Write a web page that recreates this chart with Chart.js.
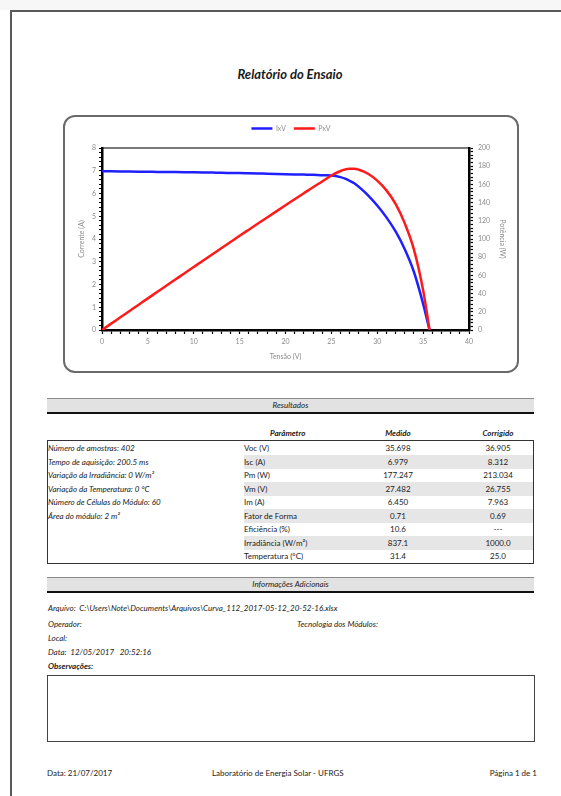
<!DOCTYPE html>
<html>
<head>
<meta charset="utf-8">
<script src="https://cdn.jsdelivr.net/npm/chart.js@4.4.1/dist/chart.umd.min.js"></script>
<style>
  html,body{margin:0;padding:0;background:#fff;}
  body{width:561px;height:796px;position:relative;overflow:hidden;font-family:Lato,"Liberation Sans",sans-serif;color:#1a1a1a;}
  .abs{position:absolute;white-space:nowrap;}
  #topstrip{left:0;top:0;width:561px;height:10px;background:#f7f7f7;}
  #frameTop{left:10px;top:10px;width:551px;height:2px;background:#5a5a5a;}
  #frameLeft{left:10px;top:10px;width:2px;height:786px;background:#5a5a5a;}
  #title{left:0;width:580px;top:66px;text-align:center;font-size:13px;font-weight:bold;font-style:italic;}
  #chartBox{left:63px;top:115px;width:456px;height:258px;box-sizing:border-box;border:2px solid #6a6a6a;border-radius:12px;overflow:hidden;background:#fff;}
  #chartBox canvas{position:absolute;left:0;top:0;}
  .bar{left:47px;width:487px;height:13px;background:#e2e2e2;border-top:1px solid #8a8a8a;border-bottom:2px solid #111;font-size:8px;font-style:italic;text-align:center;line-height:13px;}
  .t8{font-size:8px;line-height:10px;}
  .it{font-style:italic;}
  .bi{font-style:italic;font-weight:bold;}
  #tbl{left:47px;top:440px;width:487px;height:124px;box-sizing:border-box;border:1.5px solid #333;}
  .shade{position:absolute;left:196px;width:289px;background:#e6e6e6;}
  #obs{left:47px;top:675px;width:488px;height:67px;box-sizing:border-box;border:1.5px solid #444;}
</style>
</head>
<body>
<div id="topstrip" class="abs"></div>
<div id="frameTop" class="abs"></div>
<div id="frameLeft" class="abs"></div>
<div id="title" class="abs">Relatório do Ensaio</div>

<div id="chartBox" class="abs"><canvas id="c" width="452" height="254"></canvas></div>

<div class="abs bar" style="top:398px;">Resultados</div>
<div id="tblArea"></div>

<div class="abs bar" style="top:577px;">Informações Adicionais</div>
<div class="abs t8 it" style="left:48px;top:603px;">Arquivo:&nbsp; C:\Users\Note\Documents\Arquivos\Curva_112_2017-05-12_20-52-16.xlsx</div>
<div class="abs t8 it" style="left:48px;top:619px;">Operador:</div>
<div class="abs t8 it" style="left:297px;top:619px;">Tecnologia dos Módulos:</div>
<div class="abs t8 it" style="left:48px;top:633px;">Local:</div>
<div class="abs t8 it" style="left:48px;top:647px;">Data:&nbsp; 12/05/2017&nbsp;&nbsp; 20:52:16</div>
<div class="abs t8 bi" style="left:48px;top:661px;">Observações:</div>
<div id="obs" class="abs"></div>

<div class="abs t8" style="left:47px;top:768px;">Data: 21/07/2017</div>
<div class="abs t8" style="left:212px;top:768px;">Laboratório de Energia Solar - UFRGS</div>
<div class="abs t8" style="right:24px;top:768px;">Página 1 de 1</div>

<script>
// ---- Chart data ----
const voltage = [0,1,2,3,4,5,6,7,8,9,10,11,12,13,14,15,16,17,18,19,20,21,22,23,24,25,26,26.5,27,27.5,28,29,30,31,32,33,34,35,35.7];
const current = [6.98,6.975,6.97,6.965,6.96,6.955,6.95,6.945,6.94,6.935,6.93,6.925,6.92,6.91,6.905,6.90,6.89,6.88,6.87,6.86,6.85,6.84,6.83,6.82,6.80,6.79,6.72,6.65,6.56,6.45,6.29,5.92,5.47,4.95,4.33,3.55,2.55,1.15,0];
const power   = [0,6.98,13.94,20.90,27.84,34.78,41.70,48.62,55.52,62.42,69.30,76.18,83.04,89.83,96.67,103.50,110.24,116.96,123.66,130.34,137.00,143.64,150.26,156.86,163.20,169.75,174.70,176.30,177.10,177.25,176.10,171.70,164.10,153.45,138.56,117.15,88.40,43.75,0];
const seriesNames = ['IxV','PxV'];
const xTickLabels = [0,5,10,15,20,25,30,35,40];
const yTickLabels = [0,1,2,3,4,5,6,7,8];
const y2TickLabels = [0,20,40,60,80,100,120,140,160,180,200];
const axisTitles = {x:'Tensão (V)', y:'Corrente (A)', y2:'Potência (W)'};

// ---- Results table data ----
const infoLines = ['Número de amostras:  402','Tempo de aquisição:  200.5 ms','Variação da Irradiância:  0 W/m²','Variação da Temperatura:  0 °C','Número de Células do Módulo:  60','Área do módulo:  2 m²'];
const paramNames = ['Voc (V)','Isc (A)','Pm (W)','Vm (V)','Im (A)','Fator de Forma','Eficiência (%)','Irradiância (W/m²)','Temperatura (°C)'];
const medido = ['35.698','6.979','177.247','27.482','6.450','0.71','10.6','837.1','31.4'];
const corrigido = ['36.905','8.312','213.034','26.755','7.963','0.69','---','1000.0','25.0'];
const tableHeaders = ['Parâmetro','Medido','Corrigido'];

// build table
(function(){
  const area = document.getElementById('tblArea');
  let html = '';
  html += '<div class="abs t8 bi" style="left:270px;top:428px;">'+tableHeaders[0]+'</div>';
  html += '<div class="abs t8 bi" style="left:358px;width:80px;text-align:center;top:428px;">'+tableHeaders[1]+'</div>';
  html += '<div class="abs t8 bi" style="left:458px;width:80px;text-align:center;top:428px;">'+tableHeaders[2]+'</div>';
  html += '<div id="tbl" class="abs">';
  const rowH = 13.5;
  paramNames.forEach((p,i)=>{
    const top = 0.5 + i*rowH;
    if (i%2===1) html += '<div class="shade" style="top:'+top+'px;height:'+rowH+'px;"></div>';
  });
  html += '</div>';
  paramNames.forEach((p,i)=>{
    const top = 441 + i*13.5 + 2;
    html += '<div class="abs t8" style="left:244px;top:'+top+'px;">'+p+'</div>';
    html += '<div class="abs t8" style="left:358px;width:80px;text-align:center;top:'+top+'px;">'+medido[i]+'</div>';
    html += '<div class="abs t8" style="left:458px;width:80px;text-align:center;top:'+top+'px;">'+corrigido[i]+'</div>';
  });
  infoLines.forEach((t,i)=>{
    const top = 441 + i*13.5 + 2;
    html += '<div class="abs t8 it" style="left:48px;top:'+top+'px;">'+t+'</div>';
  });
  area.innerHTML = html;
})();

const ivPoints = voltage.map((v,i)=>({x:v,y:current[i]}));
const pvPoints = voltage.map((v,i)=>({x:v,y:power[i]}));

const tickFont = {family:'Lato', size:7};
const gray = '#8c8c8c';
const isIn = (arr,v)=>arr.some(a=>Math.abs(a-v)<1e-6);

new Chart(document.getElementById('c'), {
  type:'line',
  data:{datasets:[
    {label:seriesNames[0], data:ivPoints, borderColor:'#1f1fff', backgroundColor:'#1f1fff', borderWidth:2.5, pointRadius:0, pointStyle:'line', cubicInterpolationMode:'monotone', yAxisID:'y', xAxisID:'x', order:2},
    {label:seriesNames[1], data:pvPoints, borderColor:'#ff1a1a', backgroundColor:'#ff1a1a', borderWidth:2.5, pointRadius:0, pointStyle:'line', cubicInterpolationMode:'monotone', yAxisID:'y2', xAxisID:'x', order:1}
  ]},
  options:{
    responsive:false, animation:false, devicePixelRatio:1,
    layout:{padding:0},
    plugins:{
      legend:{position:'top', labels:{font:{family:'Lato',size:7}, color:gray, usePointStyle:true, pointStyleWidth:21, padding:8, boxHeight:7,
        sort:(a,b)=>a.datasetIndex-b.datasetIndex}},
      tooltip:{enabled:false}
    },
    scales:{
      x:{type:'linear', position:'bottom', min:0, max:40,
        ticks:{stepSize:1, autoSkip:false, maxRotation:0, font:tickFont, color:gray, padding:4,
          callback:(v)=> isIn(xTickLabels,v) ? String(Math.round(v)) : ''},
        grid:{drawOnChartArea:false, color:'#000', tickLength:4, tickWidth:1.2},
        border:{color:'#000', width:2.5},
        title:{display:true, text:axisTitles.x, font:{family:'Lato',size:7}, color:gray, padding:{top:2,bottom:10}},
        afterFit:(s)=>{s.height=41;}
      },
      xTop:{type:'linear', position:'top', min:0, max:40, display:true,
        ticks:{display:false}, grid:{display:false, drawTicks:false}, border:{color:'#7a7a7a', width:2},
        afterFit:(s)=>{s.height=6;}
      },
      y:{type:'linear', position:'left', min:0, max:8,
        ticks:{stepSize:0.2, autoSkip:false, font:tickFont, color:gray, padding:3,
          callback:(v)=> isIn(yTickLabels,v) ? String(Math.round(v)) : ''},
        grid:{drawOnChartArea:false, color:'#000', tickLength:3, tickWidth:1.2},
        border:{color:'#000', width:2.5},
        title:{display:true, text:axisTitles.y, font:{family:'Lato',size:7}, color:gray, padding:{top:13,bottom:2}},
        afterFit:(s)=>{s.width=37;}
      },
      y2:{type:'linear', position:'right', min:0, max:200,
        ticks:{stepSize:4, autoSkip:false, font:tickFont, color:gray, padding:5,
          callback:(v)=> isIn(y2TickLabels,v) ? String(Math.round(v)) : ''},
        grid:{drawOnChartArea:false, color:'#000', tickLength:4, tickWidth:1.2},
        border:{color:'#000', width:2.5},
        title:{display:true, text:axisTitles.y2, font:{family:'Lato',size:7}, color:gray, padding:{top:11,bottom:2}},
        afterFit:(s)=>{s.width=48;}
      }
    }
  }
});
</script>
</body>
</html>
